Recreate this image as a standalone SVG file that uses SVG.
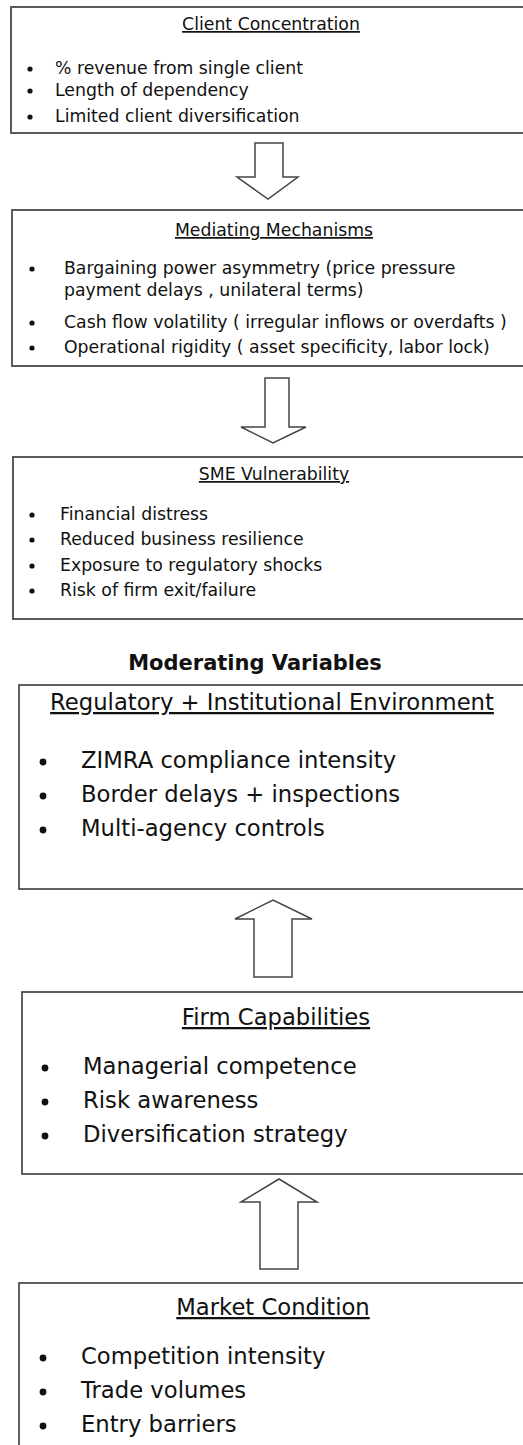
<svg xmlns="http://www.w3.org/2000/svg" width="523" height="1445" viewBox="0 0 523 1445">
  <style>
    .box { fill: #ffffff; stroke: #5a5a5a; stroke-width: 2; }
    .box2 { fill: #ffffff; stroke: #3a3a3a; stroke-width: 1.6; }
    .arrow { fill: #ffffff; stroke: #444444; stroke-width: 1.5; stroke-linejoin: miter; }
    .t { font-family: "DejaVu Sans", Verdana, sans-serif; fill: #111111; }
    .s { font-size: 17.3px; }
    .l { font-size: 22.7px; }
    .title { text-anchor: middle; text-decoration: underline; }
    .dot { fill: #111111; }
  </style>
  <rect width="523" height="1445" fill="#ffffff"/>

  <!-- flow arrows -->
  <g id="connectors">
    <path class="arrow" d="M255,143 H283 V177 H298 L268,199 L237,177 H255 Z"/>
    <path class="arrow" d="M265,378 H289 V427 H306 L273,443 L241,427 H265 Z"/>
    <path class="arrow" d="M254,977 H292 V919 H312 L273,900 L235,919 H254 Z"/>
    <path class="arrow" d="M260,1269 H298 V1202 H317 L279,1179 L241,1202 H260 Z"/>
  </g>

  <g id="client-concentration">
    <rect class="box" x="11" y="7" width="530" height="126"/>
    <text class="t s title" x="271" y="30">Client Concentration</text>
    <circle class="dot" cx="30" cy="69" r="2.6"/>
    <circle class="dot" cx="30" cy="91" r="2.6"/>
    <circle class="dot" cx="30" cy="117" r="2.6"/>
    <text class="t s" x="55" y="74">% revenue from single client</text>
    <text class="t s" x="55" y="96">Length of dependency</text>
    <text class="t s" x="55" y="122">Limited client diversification</text>
  </g>

  <g id="mediating-mechanisms">
    <rect class="box" x="12" y="210" width="530" height="156"/>
    <text class="t s title" x="274" y="236">Mediating Mechanisms</text>
    <circle class="dot" cx="32" cy="269" r="2.6"/>
    <circle class="dot" cx="32" cy="323" r="2.6"/>
    <circle class="dot" cx="32" cy="348" r="2.6"/>
    <text class="t s" x="64" y="274">Bargaining power asymmetry (price pressure</text>
    <text class="t s" x="64" y="296">payment delays , unilateral terms)</text>
    <text class="t s" x="64" y="328">Cash flow volatility ( irregular inflows or overdafts )</text>
    <text class="t s" x="64" y="353">Operational rigidity ( asset specificity, labor lock)</text>
  </g>

  <g id="sme-vulnerability">
    <rect class="box" x="13" y="457" width="530" height="162"/>
    <text class="t s title" x="274" y="480">SME Vulnerability</text>
    <circle class="dot" cx="32" cy="515" r="2.6"/>
    <circle class="dot" cx="32" cy="540" r="2.6"/>
    <circle class="dot" cx="32" cy="566" r="2.6"/>
    <circle class="dot" cx="32" cy="591" r="2.6"/>
    <text class="t s" x="60" y="520">Financial distress</text>
    <text class="t s" x="60" y="545">Reduced business resilience</text>
    <text class="t s" x="60" y="571">Exposure to regulatory shocks</text>
    <text class="t s" x="60" y="596">Risk of firm exit/failure</text>
  </g>

  <g id="moderating-heading">
    <text class="t" x="255" y="670" font-size="21" font-weight="bold" text-anchor="middle">Moderating Variables</text>
  </g>

  <g id="regulatory-environment">
    <rect class="box2" x="19" y="685" width="530" height="204"/>
    <text class="t l title" x="272" y="710">Regulatory + Institutional Environment</text>
    <circle class="dot" cx="43" cy="762" r="3.4"/>
    <circle class="dot" cx="43" cy="796" r="3.4"/>
    <circle class="dot" cx="43" cy="830" r="3.4"/>
    <text class="t l" x="81" y="768">ZIMRA compliance intensity</text>
    <text class="t l" x="81" y="802">Border delays + inspections</text>
    <text class="t l" x="81" y="836">Multi-agency controls</text>
  </g>

  <g id="firm-capabilities">
    <rect class="box2" x="22" y="992" width="530" height="182"/>
    <text class="t l title" x="276" y="1025">Firm Capabilities</text>
    <circle class="dot" cx="45" cy="1068" r="3.4"/>
    <circle class="dot" cx="45" cy="1102" r="3.4"/>
    <circle class="dot" cx="45" cy="1136" r="3.4"/>
    <text class="t l" x="83" y="1074">Managerial competence</text>
    <text class="t l" x="83" y="1108">Risk awareness</text>
    <text class="t l" x="83" y="1142">Diversification strategy</text>
  </g>

  <g id="market-condition">
    <rect class="box2" x="19" y="1283" width="530" height="200"/>
    <text class="t l title" x="273" y="1315">Market Condition</text>
    <circle class="dot" cx="43" cy="1358" r="3.4"/>
    <circle class="dot" cx="43" cy="1392" r="3.4"/>
    <circle class="dot" cx="43" cy="1426" r="3.4"/>
    <text class="t l" x="81" y="1364">Competition intensity</text>
    <text class="t l" x="81" y="1398">Trade volumes</text>
    <text class="t l" x="81" y="1432">Entry barriers</text>
  </g>
</svg>
